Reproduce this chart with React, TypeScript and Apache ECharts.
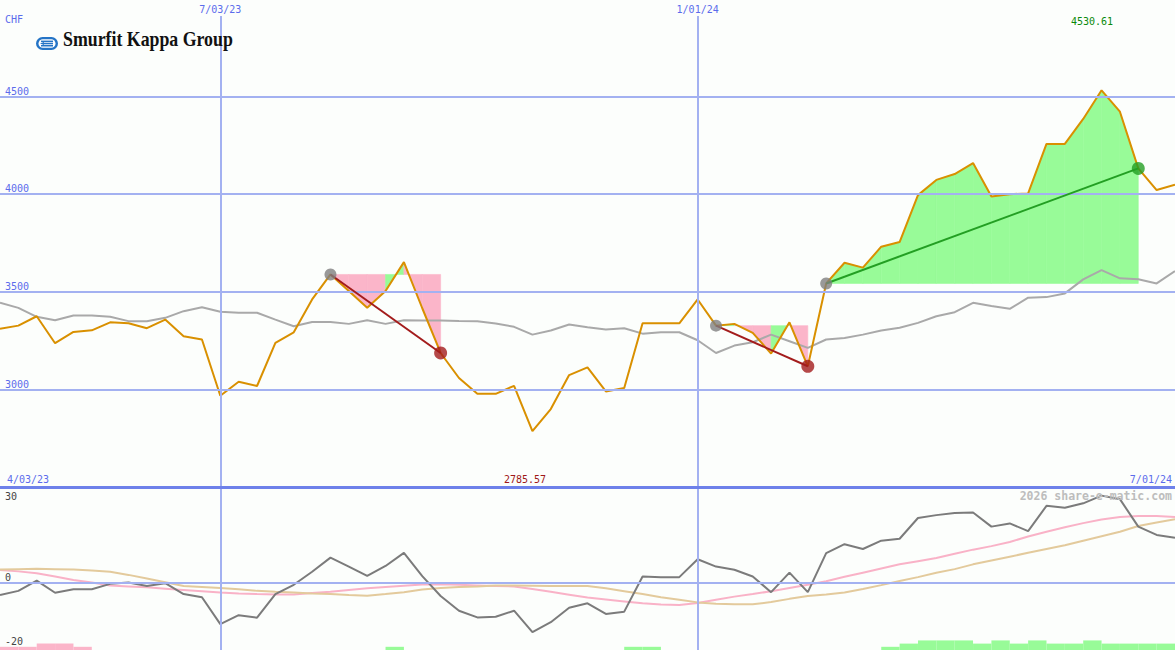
import React, { useEffect, useRef } from "react";
import * as echarts from "echarts";

// ---------------- data ----------------
// weekly closes (CHF), index 0 = first week shown
const priceValues = [
  3310, 3326, 3374, 3236, 3294, 3302, 3343, 3338, 3313, 3357,
  3272, 3255, 2967, 3039, 3017, 3238, 3292, 3460, 3588, 3503,
  3417, 3503, 3651, 3415, 3186, 3058, 2977, 2977, 3018, 2785.57,
  2899, 3073, 3112, 2989, 3007, 3338, 3338, 3338, 3460, 3326,
  3335, 3289, 3183, 3343, 3118, 3542, 3648, 3623, 3730, 3754,
  3994, 4072, 4102, 4158, 3987, 3999, 4003, 4256, 4256, 4384,
  4530.61, 4421, 4131, 4020, 4047,
];
const movingAverage = [
  3443, 3417, 3371, 3354, 3378, 3378, 3371, 3349, 3349, 3366,
  3400, 3420, 3397, 3392, 3392, 3357, 3323, 3345, 3345, 3335,
  3354, 3335, 3354, 3352, 3352, 3350, 3349, 3337, 3320, 3280,
  3301, 3332, 3318, 3306, 3313, 3285, 3292, 3292, 3251, 3186,
  3224, 3241, 3280, 3246, 3212, 3255, 3263, 3280, 3301, 3315,
  3340, 3374, 3395, 3443, 3426, 3412, 3469, 3472, 3491, 3563,
  3610, 3568, 3563, 3542, 3605,
];
const oscillator = [
  -3.8, -2.5, 0.7, -3.1, -2.0, -2.0, -0.3, 0.1, -1.0, -0.1,
  -3.5, -4.5, -12.9, -10.1, -10.9, -3.5, -0.6, 3.5, 7.9, 5.1,
  2.2, 5.3, 9.4, 2.1, -4.1, -8.7, -10.8, -10.6, -8.7, -15.4,
  -12.3, -7.8, -6.4, -9.7, -9.0, 2.0, 1.8, 1.8, 7.4, 5.1,
  4.1, 2.0, -2.9, 3.2, -2.9, 9.3, 12.1, 10.6, 13.2, 13.8,
  20.3, 21.2, 21.9, 22.0, 17.6, 18.6, 16.2, 24.1, 23.5, 24.9,
  27.3, 26.2, 17.6, 15.0, 14.1,
];
const oscFast = [
  4.0, 3.6, 3.0, 2.0, 0.9, 0.1, -0.8, -1.1, -1.4, -1.8,
  -2.2, -2.6, -3.0, -3.3, -3.5, -3.6, -3.6, -3.2, -2.8, -2.2,
  -1.7, -1.3, -0.9, -0.5, -0.4, -0.6, -0.8, -1.0, -1.1, -1.9,
  -2.8, -3.7, -4.6, -5.2, -5.8, -6.4, -6.8, -6.9, -6.3, -5.3,
  -4.3, -3.5, -2.6, -1.6, -0.6, 0.5, 1.9, 3.2, 4.5, 5.8,
  6.8, 7.8, 9.1, 10.4, 11.5, 12.8, 14.5, 16.0, 17.4, 18.7,
  19.8, 20.6, 20.9, 20.9, 20.6,
];
const oscSlow = [
  4.2, 4.3, 4.4, 4.3, 4.2, 3.9, 3.5, 2.5, 1.4, 0.2,
  -1.0, -1.3, -1.6, -2.0, -2.5, -2.8, -3.0, -3.3, -3.5, -3.8,
  -4.0, -3.5, -2.9, -2.1, -1.6, -1.3, -1.1, -0.8, -0.8, -0.9,
  -1.0, -1.0, -1.0, -1.7, -2.6, -3.5, -4.5, -5.3, -6.1, -6.5,
  -6.7, -6.7, -6.0, -5.0, -4.1, -3.6, -3.0, -1.9, -0.7, 0.6,
  1.8, 3.2, 4.3, 5.8, 7.0, 8.2, 9.4, 10.6, 11.8, 13.2,
  14.6, 16.0, 17.8, 18.9, 19.9,
];
const patternStart = [18, 39, 45];
const patternEnd = [24, 44, 62];
const pinkBarSeg = [0, 1, 2, 3, 4];
const pinkBarVal = [-20, -20, -19, -19, -20];
const greenBarSeg = [21, 34, 35, 48, 49, 50, 51, 52, 53, 54, 55, 56, 57, 58, 59, 60, 61, 62, 63];
const greenBarVal = [-20, -20, -20, -20, -19, -18, -18, -18, -19, -18, -19, -18, -19, -19, -18, -19, -19, -19, -19];
const dateMarkIndex = [12, 38];
const dateMarkLabels = ["7/03/23", "1/01/24"];
const priceTicks = [3000, 3500, 4000, 4500];
const oscLabelTicks = [0, -20];
const oscTopTick = 30;
const startDateLabel = "4/03/23";
const endDateLabel = "7/01/24";
const currencyLabel = "CHF";
const watermark = "2026 share-e-matic.com";
const logoText = "Smurfit Kappa Group";

// ---------------- styles ----------------
const BG = "#fcfefc";
const GRID_BLUE = "#a3b1f1";
const SEP_BLUE = "#6e81ea";
const LABEL_BLUE = "#5b6cec";
const PINK = "#fbb5c9";
const GREEN_FILL = "#98fb98";
const ORANGE = "#d99000";
const MA_GRAY = "#a9a9a9";
const OSC_GRAY = "#7b7b7b";
const OSC_PINK = "#f9b2c7";
const OSC_TAN = "#e3ca9c";
const DOWN_RED = "#a31c1c";
const UP_GREEN = "#239f23";
const LOGO_BLUE = "#2474c6";
const MONO = "'DejaVu Sans Mono', monospace";

export default function App() {
  const ref = useRef<HTMLDivElement>(null);

  useEffect(() => {
    if (!ref.current) return;
    const chart = echarts.init(ref.current, null, { renderer: "svg" });
    const xMax = priceValues.length - 1;
    const OSC_MIN = -21;

    const fillRows: number[][] = [];
    patternStart.forEach((s, k) => {
      const e = patternEnd[k];
      const level = priceValues[s];
      for (let i = s; i < e; i++) fillRows.push([i, priceValues[i], priceValues[i + 1], level]);
    });

    const barRows: number[][] = [];
    pinkBarSeg.forEach((s, k) => barRows.push([s, pinkBarVal[k], 0]));
    greenBarSeg.forEach((s, k) => barRows.push([s, greenBarVal[k], 1]));

    const maxVal = Math.max(...priceValues);
    const minVal = Math.min(...priceValues);

    const trendSeries = patternStart.map((s, k) => {
      const e = patternEnd[k];
      const up = priceValues[e] >= priceValues[s];
      return {
        type: "line",
        xAxisIndex: 0,
        yAxisIndex: 0,
        z: 5,
        symbol: "none",
        silent: true,
        lineStyle: { color: up ? UP_GREEN : DOWN_RED, width: 2 },
        data: [
          [s, priceValues[s]],
          [e, priceValues[e]],
        ],
      };
    });

    const textEl = (
      text: string,
      x: number,
      y: number,
      fill: string,
      align: string,
      size = 10,
      weight = "normal"
    ) => ({
      type: "text",
      x,
      y,
      z: 100,
      silent: true,
      style: {
        text,
        fill,
        fontFamily: MONO,
        fontSize: size,
        fontWeight: weight,
        align,
        textAlign: align,
        verticalAlign: "middle",
        textVerticalAlign: "middle",
      },
    });

    const option: any = {
      animation: false,
      backgroundColor: BG,
      grid: [
        { left: 0, top: 16, width: 1175, height: 471 },
        { left: 0, top: 487, width: 1175, height: 163 },
      ],
      xAxis: [
        { gridIndex: 0, type: "value", min: 0, max: xMax, show: false },
        { gridIndex: 1, type: "value", min: 0, max: xMax, show: false },
      ],
      yAxis: [
        { gridIndex: 0, type: "value", min: 2500, max: 4911, show: false },
        { gridIndex: 1, type: "value", min: OSC_MIN, max: 30, show: false },
      ],
      series: [
        // grid lines (main)
        {
          type: "line",
          xAxisIndex: 0,
          yAxisIndex: 0,
          data: [],
          z: 1,
          silent: true,
          markLine: {
            silent: true,
            symbol: ["none", "none"],
            lineStyle: { color: GRID_BLUE, width: 2, type: "solid" },
            label: {
              show: true,
              position: "insideStartTop",
              color: LABEL_BLUE,
              fontFamily: MONO,
              fontSize: 10,
              distance: [5, 0],
            },
            data: [
              ...priceTicks.map((v) => ({ yAxis: v, label: { formatter: String(v) } })),
              ...dateMarkIndex.map((x, k) => ({
                xAxis: x,
                label: { position: "end", formatter: dateMarkLabels[k], distance: 2 },
              })),
            ],
          },
        },
        // grid lines (lower)
        {
          type: "line",
          xAxisIndex: 1,
          yAxisIndex: 1,
          data: [],
          z: 1,
          silent: true,
          markLine: {
            silent: true,
            symbol: ["none", "none"],
            lineStyle: { color: GRID_BLUE, width: 2, type: "solid" },
            label: {
              show: true,
              position: "insideStartTop",
              color: "#444444",
              fontFamily: MONO,
              fontSize: 10,
              distance: [5, 0],
            },
            data: [
              ...oscLabelTicks.map((v) => ({
                yAxis: v,
                lineStyle: v === 0 ? { color: GRID_BLUE } : { color: "rgba(0,0,0,0)" },
                label: { formatter: String(v) },
              })),
              ...dateMarkIndex.map((x) => ({ xAxis: x, label: { show: false } })),
            ],
          },
        },
        // separator
        {
          type: "line",
          xAxisIndex: 1,
          yAxisIndex: 1,
          data: [],
          z: 8,
          silent: true,
          markLine: {
            silent: true,
            symbol: ["none", "none"],
            lineStyle: { color: SEP_BLUE, width: 3, type: "solid" },
            label: {
              show: true,
              position: "insideStartBottom",
              color: "#444444",
              fontFamily: MONO,
              fontSize: 10,
              distance: [5, 4],
            },
            data: [{ yAxis: oscTopTick, label: { formatter: String(oscTopTick) } }],
          },
        },
        // pattern fills
        {
          type: "custom",
          xAxisIndex: 0,
          yAxisIndex: 0,
          z: 2,
          silent: true,
          data: fillRows,
          renderItem: (params: any, api: any) => {
            const i = api.value(0);
            const a = api.value(1);
            const b = api.value(2);
            const L = api.value(3);
            const color = b >= L ? GREEN_FILL : PINK;
            return {
              type: "polygon",
              shape: {
                points: [api.coord([i, L]), api.coord([i, a]), api.coord([i + 1, b]), api.coord([i + 1, L])],
              },
              style: { fill: color, stroke: color, lineWidth: 0.6 },
            };
          },
        },
        // moving average
        {
          type: "line",
          xAxisIndex: 0,
          yAxisIndex: 0,
          z: 3,
          symbol: "none",
          silent: true,
          lineStyle: { color: MA_GRAY, width: 2 },
          data: movingAverage.map((v, i) => [i, v]),
        },
        // price
        {
          type: "line",
          xAxisIndex: 0,
          yAxisIndex: 0,
          z: 4,
          symbol: "none",
          silent: true,
          lineStyle: { color: ORANGE, width: 2 },
          data: priceValues.map((v, i) => [i, v]),
        },
        ...trendSeries,
        // start dots
        {
          type: "scatter",
          xAxisIndex: 0,
          yAxisIndex: 0,
          z: 6,
          silent: true,
          symbolSize: 12,
          itemStyle: { color: "#808080" },
          data: patternStart.map((s) => [s, priceValues[s]]),
        },
        // end dots
        {
          type: "scatter",
          xAxisIndex: 0,
          yAxisIndex: 0,
          z: 6,
          silent: true,
          symbolSize: 13,
          data: patternEnd.map((e, k) => ({
            value: [e, priceValues[e]],
            itemStyle: { color: priceValues[e] >= priceValues[patternStart[k]] ? UP_GREEN : DOWN_RED },
          })),
        },
        // lower bars
        {
          type: "custom",
          xAxisIndex: 1,
          yAxisIndex: 1,
          z: 2,
          silent: true,
          data: barRows,
          renderItem: (params: any, api: any) => {
            const s = api.value(0);
            const v = api.value(1);
            const c = api.value(2);
            const p1 = api.coord([s, v]);
            const p2 = api.coord([s + 1, OSC_MIN]);
            return {
              type: "rect",
              shape: { x: p1[0], y: p1[1], width: p2[0] - p1[0], height: p2[1] - p1[1] },
              style: { fill: c === 1 ? GREEN_FILL : PINK },
            };
          },
        },
        {
          type: "line",
          xAxisIndex: 1,
          yAxisIndex: 1,
          z: 3,
          symbol: "none",
          silent: true,
          lineStyle: { color: OSC_PINK, width: 2 },
          data: oscFast.map((v, i) => [i, v]),
        },
        {
          type: "line",
          xAxisIndex: 1,
          yAxisIndex: 1,
          z: 3,
          symbol: "none",
          silent: true,
          lineStyle: { color: OSC_TAN, width: 2 },
          data: oscSlow.map((v, i) => [i, v]),
        },
        {
          type: "line",
          xAxisIndex: 1,
          yAxisIndex: 1,
          z: 4,
          symbol: "none",
          silent: true,
          lineStyle: { color: OSC_GRAY, width: 2 },
          data: oscillator.map((v, i) => [i, v]),
        },
      ],
      graphic: [
        textEl(currencyLabel, 5, 19, LABEL_BLUE, "left"),
        {
          type: "group",
          x: 36,
          y: 37,
          z: 100,
          silent: true,
          children: [
            { type: "rect", shape: { x: 0, y: 0, width: 22, height: 13, r: 6.5 }, style: { fill: LOGO_BLUE } },
            { type: "rect", shape: { x: 2.5, y: 2.2, width: 17, height: 8.6, r: 4.3 }, style: { fill: "#ffffff" } },
            { type: "rect", shape: { x: 5, y: 3.6, width: 12, height: 1.5 }, style: { fill: LOGO_BLUE } },
            { type: "rect", shape: { x: 8, y: 5.8, width: 9, height: 1.5 }, style: { fill: LOGO_BLUE } },
            { type: "rect", shape: { x: 5, y: 8, width: 12, height: 1.5 }, style: { fill: LOGO_BLUE } },
            { type: "polygon", shape: { points: [[4, 6.5], [8, 4.9], [8, 8.1]] }, style: { fill: LOGO_BLUE } },
          ],
        },
        {
          type: "text",
          x: 63,
          y: 49,
          z: 100,
          silent: true,
          scaleX: 0.81,
          style: {
            text: logoText,
            fill: "#111111",
            fontFamily: "'Liberation Serif', 'DejaVu Serif', serif",
            fontSize: 22,
            fontWeight: "bold",
            align: "left",
            textAlign: "left",
            verticalAlign: "alphabetic",
            textVerticalAlign: "bottom",
          },
        },
        textEl(maxVal.toFixed(2), 1092, 21, "#0b8a0b", "center"),
        textEl(startDateLabel, 7, 479, LABEL_BLUE, "left"),
        textEl(minVal.toFixed(2), 525, 479, "#a01818", "center"),
        textEl(endDateLabel, 1172, 479, LABEL_BLUE, "right"),
        textEl(watermark, 1172, 496, "#bdbdbd", "right", 11.5, "bold"),
      ],
    };

    chart.setOption(option);
    return () => chart.dispose();
  }, []);

  return (
    <div
      ref={ref}
      style={{ position: "absolute", left: 0, top: 0, width: 1175, height: 650, background: BG }}
    />
  );
}
